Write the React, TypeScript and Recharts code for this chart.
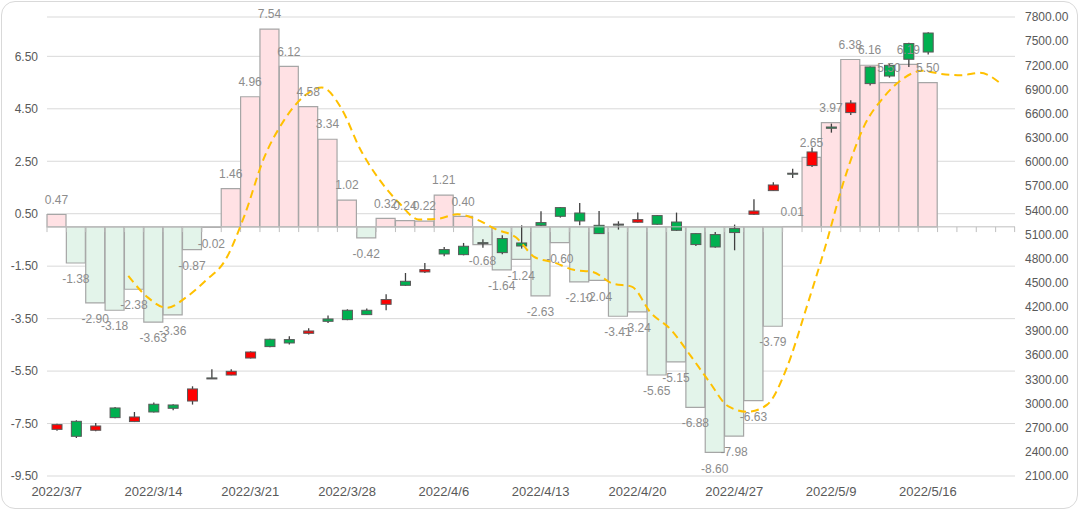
import { Bar, CartesianGrid, Cell, ComposedChart, LabelList, Line, ReferenceLine, XAxis, YAxis } from "recharts";

const dates = [
  "2022/3/7", "2022/3/8", "2022/3/9", "2022/3/10", "2022/3/11",
  "2022/3/14", "2022/3/15", "2022/3/16", "2022/3/17", "2022/3/18",
  "2022/3/21", "2022/3/22", "2022/3/23", "2022/3/24", "2022/3/25",
  "2022/3/28", "2022/3/29", "2022/3/30", "2022/3/31", "2022/4/1",
  "2022/4/6", "2022/4/7", "2022/4/8", "2022/4/11", "2022/4/12",
  "2022/4/13", "2022/4/14", "2022/4/15", "2022/4/18", "2022/4/19",
  "2022/4/20", "2022/4/21", "2022/4/22", "2022/4/25", "2022/4/26",
  "2022/4/27", "2022/4/28", "2022/4/29", "2022/5/5", "2022/5/6",
  "2022/5/9", "2022/5/10", "2022/5/11", "2022/5/12", "2022/5/13",
  "2022/5/16", "2022/5/17", "2022/5/18", "2022/5/19", "2022/5/20",
];

// daily change, left axis
const changes = [
  0.47, -1.38, -2.9, -3.18, -2.38, -3.63, -3.36, -0.87, -0.02, 1.46,
  4.96, 7.54, 6.12, 4.58, 3.34, 1.02, -0.42, 0.32, 0.24, 0.22,
  1.21, 0.4, -0.68, -1.64, -1.24, -2.63, -0.6, -2.1, -2.04, -3.41,
  -3.24, -5.65, -5.15, -6.88, -8.6, -7.98, -6.63, -3.79, 0.01, 2.65,
  3.97, 6.38, 6.16, 5.5, 6.19, 5.5,
];

// dashed trend line, left axis
const trend = [
  null, null, null, null, -1.87, -2.69, -3.09, -2.68, -2.05, -1.28,
  0.43, 2.61, 4.01, 4.93, 5.31, 4.52, 2.93, 1.77, 0.9, 0.28,
  0.31, 0.48, 0.28, -0.1, -0.39, -1.16, -1.36, -1.64, -1.72, -2.16,
  -2.28, -3.29, -3.9, -4.87, -5.9, -6.85, -7.05, -6.78, -5.4, -3.15,
  -0.76, 1.84, 3.83, 4.93, 5.64, 5.95, 5.83, 5.78, 5.87, 5.5,
];

// candles, right axis
const opens = [
  2679, 2779, 2668, 2945, 2776, 2991, 2982, 3031, 3318, 3354,
  3565, 3798, 3794, 3872, 4050, 4158, 4158, 4232, 4518, 4634,
  4912, 4953, 4998, 5048, 4994, 5247, 5433, 5366, 5213, 5228,
  5251, 5334, 5254, 5110, 5098, 5172, 5350, 5644, 5860, 5955,
  6434, 6613, 7179, 7200, 7470, 7601,
];
const closes = [
  2738, 2593, 2721, 2825, 2833, 2895, 2941, 3181, 3312, 3400,
  3640, 3707, 3752, 3901, 4021, 4042, 4104, 4291, 4468, 4663,
  4857, 4849, 4985, 4874, 4956, 5213, 5325, 5267, 5110, 5218,
  5284, 5226, 5151, 4974, 4944, 5123, 5391, 5714, 5850, 6124,
  6418, 6732, 6973, 7067, 7275, 7365,
];
const highs = [
  2750, 2792, 2758, 2957, 2895, 3012, 2990, 3214, 3425, 3425,
  3648, 3805, 3835, 3934, 4092, 4170, 4179, 4356, 4621, 4745,
  4944, 4994, 5040, 5089, 5213, 5387, 5440, 5490, 5391, 5263,
  5371, 5340, 5371, 5115, 5130, 5222, 5536, 5747, 5917, 6178,
  6476, 6766, 7185, 7221, 7480, 7610,
];
const lows = [
  2663, 2572, 2656, 2818, 2770, 2890, 2916, 2987, 3308, 3350,
  3560, 3700, 3732, 3856, 4000, 4035, 4100, 4158, 4460, 4621,
  4828, 4840, 4936, 4853, 4924, 5205, 5309, 5213, 5105, 5160,
  5245, 5220, 5143, 4956, 4936, 4903, 5340, 5640, 5801, 5937,
  6364, 6583, 6948, 7047, 7179, 7333,
];

const leftTicks = [-9.5, -7.5, -5.5, -3.5, -1.5, 0.5, 2.5, 4.5, 6.5];
const rightTicks = [
  2100, 2400, 2700, 3000, 3300, 3600, 3900, 4200, 4500, 4800,
  5100, 5400, 5700, 6000, 6300, 6600, 6900, 7200, 7500, 7800,
];

const AXIS_TICK = -0.2;
const FONT = "'Liberation Sans', Arial, sans-serif";

const rows = dates.map((date, i) => ({
  date,
  idx: i,
  change: changes[i] ?? null,
  trend: trend[i] ?? null,
  open: opens[i] ?? null,
  close: closes[i] ?? null,
  high: highs[i] ?? null,
  low: lows[i] ?? null,
}));

function Candle(props: any) {
  const { x, y, width, height, payload } = props;
  if (!payload || payload.high == null || !height) return null;
  const { open, close, high, low } = payload;
  const py = (v: number) => y + ((high - v) / (high - low)) * height;
  const cx = x + width / 2;
  const top = py(Math.max(open, close));
  const bot = py(Math.min(open, close));
  return (
    <g>
      <line x1={cx} x2={cx} y1={y} y2={y + height} stroke="#404040" strokeWidth={1.3} />
      <rect
        x={x}
        y={top}
        width={width}
        height={Math.max(bot - top, 1)}
        fill={close >= open ? "#FF0000" : "#00B050"}
        stroke="#595959"
        strokeWidth={1}
      />
    </g>
  );
}

function AxisMark(props: any) {
  const { x, y, width, height, index } = props;
  if (x == null || !height) return null;
  const y1 = Math.min(y, y + height);
  const y2 = Math.max(y, y + height);
  return (
    <g>
      <line x1={x} x2={x} y1={y1} y2={y2} stroke="#BFBFBF" />
      {index === dates.length - 1 && <line x1={x + width} x2={x + width} y1={y1} y2={y2} stroke="#BFBFBF" />}
    </g>
  );
}

function ValueLabel(props: any) {
  const vb = props.viewBox ?? props;
  const x = props.x ?? vb.x;
  const y = props.y ?? vb.y;
  const width = props.width ?? vb.width;
  const height = props.height ?? vb.height;
  const value = props.value;
  if (value == null || x == null) return null;
  const top = Math.min(y, y + height);
  const bottom = Math.max(y, y + height);
  const cy = value >= 0 ? top - 15 : bottom + 16;
  return (
    <text x={x + width / 2} y={cy} dy="0.35em" textAnchor="middle" fill="#8C8C8C" fontSize={12} fontFamily={FONT}>
      {Number(value).toFixed(2)}
    </text>
  );
}

export default function App() {
  return (
    <div style={{ position: "fixed", left: 0, top: 0, width: 1080, height: 512, background: "#fff", fontFamily: FONT }}>
      <ComposedChart
        width={1080}
        height={512}
        data={rows}
        margin={{ top: 17, right: 0, bottom: 0, left: 0 }}
        barCategoryGap={0}
        barGap={0}
      >
        <CartesianGrid xAxisId="main" yAxisId="left" vertical={false} stroke="#D9D9D9" />
        <XAxis
          xAxisId="main"
          dataKey="date"
          interval={4}
          height={36}
          axisLine={false}
          tickLine={false}
          tickMargin={5}
          tick={{ fill: "#595959", fontSize: 13, fontFamily: FONT }}
        />
        <XAxis xAxisId="tick" dataKey="date" orientation="top" height={0} hide />
        <XAxis xAxisId="candle" dataKey="date" orientation="top" height={0} hide />
        <XAxis xAxisId="line" type="number" dataKey="idx" domain={[-0.2, 49.8]} orientation="top" height={0} hide />
        <YAxis
          yAxisId="left"
          width={47}
          domain={[-9.5, 8]}
          ticks={leftTicks}
          axisLine={false}
          tickLine={false}
          tickMargin={3}
          tickFormatter={(v: number) => v.toFixed(2)}
          tick={{ fill: "#595959", fontSize: 12, fontFamily: FONT }}
        />
        <YAxis
          yAxisId="right"
          orientation="right"
          width={65}
          domain={[2100, 7800]}
          ticks={rightTicks}
          axisLine={false}
          tickLine={false}
          tickMargin={4}
          tickFormatter={(v: number) => v.toFixed(2)}
          tick={{ fill: "#595959", fontSize: 12, fontFamily: FONT }}
        />
        <ReferenceLine xAxisId="main" yAxisId="left" y={0} stroke="#BFBFBF" />
        <Bar xAxisId="main" yAxisId="left" dataKey="change" stroke="#A6A6A6" strokeWidth={1.2} isAnimationActive={false}>
          {rows.map((r, i) => (
            <Cell key={i} fill={(r.change ?? 0) >= 0 ? "#FFE1E4" : "#E3F4EA"} />
          ))}
          <LabelList dataKey="change" content={<ValueLabel />} />
        </Bar>
        <Bar xAxisId="tick" yAxisId="left" dataKey={() => AXIS_TICK} shape={<AxisMark />} isAnimationActive={false} />
        <Line
          xAxisId="line"
          yAxisId="left"
          dataKey="trend"
          type="monotone"
          stroke="#FFC000"
          strokeWidth={2}
          strokeDasharray="8 5"
          dot={false}
          activeDot={false}
          isAnimationActive={false}
        />
        <Bar
          xAxisId="candle"
          yAxisId="right"
          dataKey={(r: any) => (r.high == null ? null : [r.low, r.high])}
          barSize={10}
          shape={<Candle />}
          isAnimationActive={false}
        />
      </ComposedChart>
      <div
        style={{
          position: "absolute",
          left: 1,
          top: 1,
          width: 1077,
          height: 508,
          border: "1.5px solid #D9D9D9",
          borderRadius: 14,
          boxSizing: "border-box",
          pointerEvents: "none",
        }}
      />
    </div>
  );
}
